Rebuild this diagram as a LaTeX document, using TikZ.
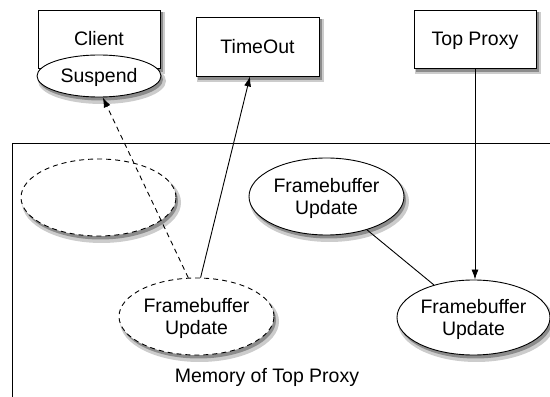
\documentclass[tikz,border=0pt]{standalone}
\usepackage{fontspec}
\setmainfont{Liberation Sans}
\usepackage{tikz}
\usetikzlibrary{shapes,arrows.meta,backgrounds}
\usetikzlibrary{positioning}
\definecolor{shadowgray}{gray}{0.55}
\definecolor{halogray}{gray}{0.8}

\begin{document}
\begin{tikzpicture}[x=1pt,y=1pt,draw=black,line width=0.9pt,font=\fontsize{19.5}{22}\selectfont]
		\tikzstyle{box}=[rectangle, draw, fill=white, minimum width=122, minimum height=58, text height=14pt, text depth=0pt]
		\tikzstyle{msg}=[ellipse, draw, fill=white, minimum width=155, minimum height=77, align=center, text depth=0pt, inner sep=0pt]
		\tikzstyle{gone}=[msg, dash pattern=on 5pt off 4pt]
		\tikzset{>={Latex[length=10pt,width=7pt]}}
		\useasboundingbox (0,0) rectangle (550,397);
		% memory frame
		\draw (550,254) -- (12,254) -- (12,0);
		\node (memlabel) at (267,20) {Memory of Top Proxy};
		% processes
		\node[box] (client) at (99,358) {Client};
		\node[ellipse, draw, fill=white, minimum width=124, minimum height=42, text height=14pt, text depth=0pt, inner sep=0pt] (suspend) at (99,321) {Suspend};
		\node[box, minimum height=59, minimum width=123] (timeout) at (257.5,350.5) {TimeOut};
		\node[box] (topproxy) at (475,358) {Top Proxy};
		% updates
		\node[gone] (fbold) at (98.5,199.5) {};
		\node[msg] (fbkept) at (326.5,200.5) {Framebuffer\\Update};
		\node[gone] (fbsent) at (196.5,80.5) {Framebuffer\\Update};
		\node[msg, minimum width=153, minimum height=75] (fbnew) at (473.5,79.5) {Framebuffer\\Update};
		\draw[->, dash pattern=on 5pt off 4pt] (fbsent.102) -- (suspend.-80);
		\draw[->] (fbsent.84) -- ([xshift=-7.5pt]timeout.south);
		\draw[->] (topproxy.south) -- (topproxy.south |- fbnew.north);
		\draw (fbkept) -- (fbnew);
		% shadows
		\begin{pgfonlayer}{background}
			\foreach \n in {client,timeout,topproxy} {
				\fill[halogray] ([shift={(1,-6)}]\n.south west) rectangle ([shift={(5,-2)}]\n.north east);
				\fill[shadowgray] ([shift={(2,-4)}]\n.south west) rectangle ([shift={(3,-2)}]\n.north east);
			}
			\foreach \n/\rx/\ry in {suspend/62/21,fbold/77.5/38.5,fbkept/77.5/38.5,fbsent/77.5/38.5,fbnew/76.5/37.5} {
				\fill[halogray] ([shift={(3,-5)}]\n.center) ellipse [x radius=\rx+2, y radius=\ry+2];
				\fill[shadowgray] ([shift={(2,-3.5)}]\n.center) ellipse [x radius=\rx, y radius=\ry];
			}
		\end{pgfonlayer}
	\end{tikzpicture}
\end{document}
